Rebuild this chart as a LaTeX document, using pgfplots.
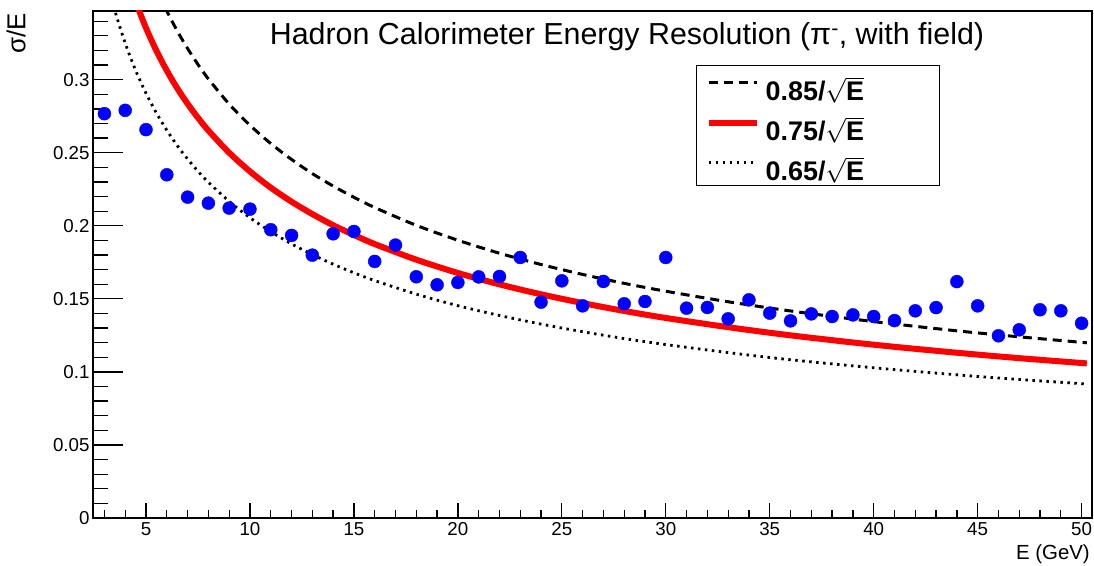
\documentclass[border=0pt]{standalone}
\usepackage{fontspec}
\setmainfont{Liberation Sans}
\usepackage{pgfplots}
\pgfplotsset{compat=1.18}
\begin{document}
\begin{tikzpicture}
\begin{axis}[
 scale only axis, width=999bp, height=507bp,
 xmin=2.45, xmax=50.5, ymin=0, ymax=0.347,
 xtick distance=5, ytick distance=0.05,
 minor x tick num=4, minor y tick num=4,
 tick pos=left, tick align=inside,
 axis line style={line width=1.3bp},
 tick style={line width=1.3bp, black},
 xtick style={/pgfplots/major tick length=15bp,/pgfplots/minor tick length=7.5bp},
 ytick style={/pgfplots/major tick length=30bp,/pgfplots/minor tick length=15bp},
 /pgf/number format/assume math mode=true,
 every tick label/.append style={font=\fontsize{18.8}{21}\selectfont},
 yticklabel style={/pgf/number format/fixed,/pgf/number format/precision=2},
 xticklabel style={yshift=-1bp},
 xlabel={E (GeV)}, ylabel={σ/E},
 xlabel style={font=\fontsize{20.5}{22}\selectfont, at={(rel axis cs:0.998,-0.053)}, anchor=north east, inner sep=0pt},
 ylabel style={font=\fontsize{26}{28}\selectfont, at={(rel axis cs:-0.077,0.996)}, anchor=east, inner sep=0pt},
 legend style={at={(rel axis cs:0.6036,0.8935)}, anchor=north west, draw=black, line width=1.3bp, fill=white,
   inner xsep=9bp, inner ysep=0pt, row sep=0pt, column sep=6bp,
   font=\bfseries\fontsize{27}{30}\selectfont,
   nodes={inner sep=0pt, text height=35bp, text depth=5bp}},
 legend cell align=left,
 legend image code/.code={\draw[#1] (0bp,3bp) -- (48bp,3bp);},
]
\addplot[black, line width=3bp, dash pattern=on 9bp off 6bp, smooth] coordinates {
(2.5,0.5376)(3,0.4907)(3.5,0.4543)(4,0.4250)(4.5,0.4007)(5,0.3801)(5.5,0.3624)(6,0.3470)(6.5,0.3334)(7,0.3213)(7.5,0.3104)(8,0.3005)(9,0.2833)(10,0.2688)(11,0.2563)(12,0.2454)(13,0.2357)(14,0.2272)(15,0.2195)(16,0.2125)(18,0.2003)(20,0.1901)(22,0.1812)(24,0.1735)(26,0.1667)(28,0.1606)(30,0.1552)(33,0.1480)(36,0.1417)(40,0.1344)(44,0.1281)(47,0.1240)(50.25,0.1199)};
\addlegendentry{\makebox[165bp][l]{0.85/$\sqrt{\hbox{\bfseries E}}$}}
\addplot[red, line width=6bp, smooth] coordinates {
(2.5,0.4743)(3,0.4330)(3.5,0.4009)(4,0.3750)(4.5,0.3536)(5,0.3354)(5.5,0.3198)(6,0.3062)(6.5,0.2942)(7,0.2835)(7.5,0.2739)(8,0.2652)(9,0.2500)(10,0.2372)(11,0.2261)(12,0.2165)(13,0.2080)(14,0.2004)(15,0.1937)(16,0.1875)(18,0.1768)(20,0.1677)(22,0.1599)(24,0.1531)(26,0.1471)(28,0.1417)(30,0.1369)(33,0.1306)(36,0.1250)(40,0.1186)(44,0.1131)(47,0.1094)(50.25,0.1058)};
\addlegendentry{\makebox[165bp][l]{0.75/$\sqrt{\hbox{\bfseries E}}$}}
\addplot[black, line width=2.8bp, dash pattern=on 2.5bp off 4.5bp, smooth] coordinates {
(2.5,0.4111)(3,0.3753)(3.5,0.3474)(4,0.3250)(4.5,0.3064)(5,0.2907)(5.5,0.2772)(6,0.2654)(6.5,0.2549)(7,0.2457)(7.5,0.2373)(8,0.2298)(9,0.2167)(10,0.2055)(11,0.1960)(12,0.1876)(13,0.1803)(14,0.1737)(15,0.1678)(16,0.1625)(18,0.1532)(20,0.1453)(22,0.1386)(24,0.1327)(26,0.1275)(28,0.1228)(30,0.1187)(33,0.1132)(36,0.1083)(40,0.1028)(44,0.0980)(47,0.0948)(50.25,0.0917)};
\addlegendentry{\makebox[165bp][l]{0.65/$\sqrt{\hbox{\bfseries E}}$}}
\addplot[only marks, mark=*, mark size=6.5bp, blue, mark options={fill=blue, draw=blue}, forget plot] coordinates {
(3,0.2767)(4,0.2790)(5,0.2658)(6,0.2349)(7,0.2196)(8,0.2155)(9,0.2121)(10,0.2114)(11,0.1973)(12,0.1934)(13,0.1799)(14,0.1945)(15,0.1961)(16,0.1756)(17,0.1868)(18,0.1651)(19,0.1596)(20,0.1612)(21,0.1650)(22,0.1653)(23,0.1783)(24,0.1477)(25,0.1623)(26,0.1452)(27,0.1619)(28,0.1466)(29,0.1482)(30,0.1783)(31,0.1436)(32,0.1441)(33,0.1363)(34,0.1493)(35,0.1402)(36,0.1349)(37,0.1397)(38,0.1379)(39,0.1390)(40,0.1379)(41,0.1351)(42,0.1418)(43,0.1440)(44,0.1618)(45,0.1452)(46,0.1247)(47,0.1288)(48,0.1425)(49,0.1418)(50,0.1333)};
\node[anchor=base, inner sep=0pt, font=\fontsize{30.5}{33}\selectfont] at (rel axis cs:0.5345,0.933) {Hadron Calorimeter Energy Resolution (π\textsuperscript{-}, with field)};
\end{axis}
\pgfresetboundingbox
\path ([shift={(-93bp,-48bp)}]current axis.south west) rectangle ([shift={(2bp,11bp)}]current axis.north east);
\end{tikzpicture}
\end{document}
